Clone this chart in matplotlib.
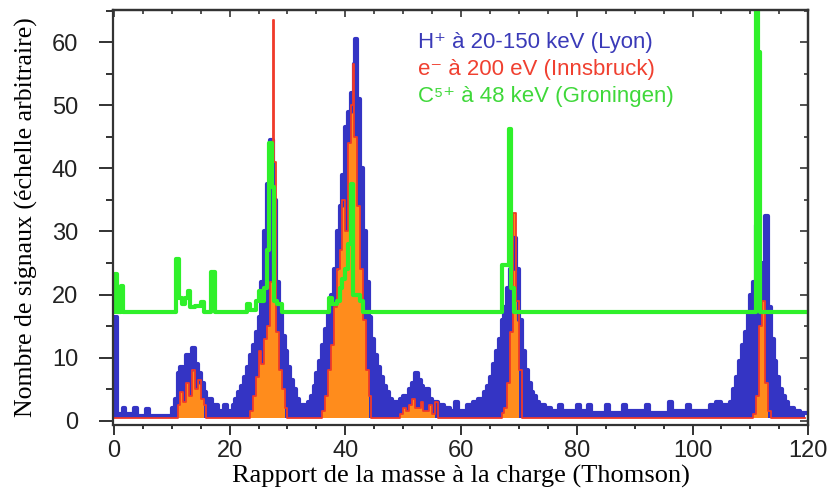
import numpy as np
import matplotlib.pyplot as plt
from matplotlib.ticker import MultipleLocator, NullFormatter

h_pts = [(0, 16.5), (0.5, 1.0), (1.5, 2.0), (2, 1.0), (3.5, 2.0), (4, 0.8), (5.5, 1.8), (6, 0.8),
         (10, 2.0), (10.5, 3.5), (11, 7.5), (11.5, 8.5), (12, 7.0), (12.5, 10.5), (13, 8.0), (13.5, 11.5),
         (14, 9.0), (14.5, 7.5), (15, 6.0), (15.5, 4.5), (16, 3.5), (17, 2.5), (18, 1.5), (19, 2.5),
         (19.5, 1.5), (20.5, 2.5), (21, 3.5), (21.5, 4.5), (22, 5.5), (22.5, 7), (23, 8.5), (23.5, 10.5),
         (24, 12), (24.5, 14), (25, 16.5), (25.5, 22), (26, 30), (26.5, 37.5), (27, 44.5), (27.5, 35),
         (28, 22), (28.5, 17), (29, 13.5), (29.5, 11), (30, 8.5), (30.5, 6.5), (31, 5), (31.5, 3.5),
         (32, 2.5), (33, 2), (33.5, 3), (34, 4), (34.5, 5.5), (35, 7.5), (35.5, 9.5), (36, 12),
         (36.5, 14.5), (37, 17), (37.5, 20), (38, 24), (38.5, 30), (39, 34), (39.5, 39), (40, 46.5),
         (40.5, 49), (41, 52), (41.5, 56.5), (41.75, 60.5), (42, 51), (42.5, 40), (43, 30), (43.5, 22),
         (44, 16.5), (44.5, 13), (45, 10.5), (45.5, 8.5), (46, 7), (46.5, 5.5), (47, 4.5), (47.5, 3.5),
         (48, 3), (49, 2.5), (49.5, 3.5), (50, 4), (50.5, 3.5), (51, 5), (51.5, 6), (52, 7.5),
         (52.5, 6.5), (53, 5.5), (53.5, 4.5), (54, 5), (54.5, 3.5), (55, 3), (56, 2.5), (57, 2),
         (58, 1.5), (59, 3), (59.5, 1.5), (61, 2.5), (62, 3), (63, 3.5), (64, 4.5), (64.5, 5.5),
         (65, 7), (65.5, 9), (66, 11), (66.5, 13), (67, 16), (67.5, 18), (68, 21), (68.5, 24),
         (69, 29), (69.5, 24), (70, 16), (70.5, 11), (71, 8), (71.5, 6), (72, 4.5), (72.5, 4),
         (73, 3), (73.5, 2.5), (74.5, 2), (75.5, 1.5), (77, 2.5), (77.5, 1.5), (80, 2.5), (80.5, 1.5),
         (82, 2.5), (82.5, 1.3), (85, 2.5), (85.5, 1.3), (88, 2.5), (88.5, 1.5), (92, 2.5), (92.5, 1.3),
         (96, 3), (96.5, 1.5), (99, 2.5), (99.5, 1.5), (103, 2.5), (104, 3), (105, 2.5), (106.5, 3),
         (107, 5), (107.5, 7), (108, 9.5), (108.5, 12), (109, 14), (109.5, 17), (110, 20), (110.5, 22),
         (111, 31), (111.5, 25), (112, 22), (112.5, 32.5), (113, 18), (113.5, 13), (114, 9.5), (114.5, 7),
         (115, 5), (115.5, 4), (116, 3), (116.5, 2), (117.5, 1.5), (118.5, 1.2), (119.5, 1.2)]

# électrons (Innsbruck)
e_pts = [(-0.2, 0.4), (11, 2.5), (11.5, 4.5), (12, 3), (12.5, 6), (13, 4), (13.5, 8), (14, 5),
         (14.5, 6.5), (15, 3.5), (15.5, 2.5), (16, 0.4), (23.5, 1.5), (24, 4), (24.5, 7), (25, 11),
         (25.5, 9), (26, 13), (26.5, 15), (27, 22), (27.5, 63.5), (27.75, 41), (28, 14), (28.5, 8),
         (29, 5), (29.5, 2), (30, 0.4), (36, 1.5), (36.5, 4), (37, 8), (37.5, 12), (38, 18),
         (38.5, 24), (39, 27), (39.5, 35), (40, 30), (40.5, 44), (41, 50), (41.25, 56.5), (41.5, 45),
         (42, 34), (42.5, 24), (43, 16), (43.5, 8), (44, 4), (44.5, 0.4), (49.5, 1), (50, 2),
         (50.5, 1.5), (51, 2.5), (51.5, 3.5), (52, 2), (53, 3), (53.5, 1.5), (54.5, 2.5), (55, 1),
         (55.5, 3), (56, 0.4), (67, 1.2), (67.5, 2), (68, 6), (68.5, 14), (69, 33), (69.5, 19),
         (70, 8), (70.5, 0.4), (110.5, 1), (111, 4), (111.5, 15), (112, 19), (112.5, 6), (113, 1.5),
         (113.5, 0.4), (119.5, 0.4)]

# C5+ (Groningen)
c_pts = [(-0.2, 17.2), (0.2, 23.3), (0.6, 17.2), (1.2, 21.3), (1.6, 17.2), (10.8, 25.7), (11.3, 19.5),
         (11.8, 18.5), (12.3, 19.5), (12.8, 20.5), (13.2, 18), (14, 18.2), (15, 18.8), (15.5, 17.2),
         (16.7, 23.5), (17.5, 17.2), (23, 18.5), (23.5, 17.5), (24.5, 19), (25, 20.5), (25.5, 19),
         (26, 21), (26.5, 27), (26.8, 44), (27.3, 37), (27.6, 19), (28.2, 18.5), (29, 17.2),
         (37.2, 19.5), (37.7, 18.5), (38.5, 19), (39, 21), (39.5, 22.5), (40, 24), (40.5, 28),
         (40.9, 37.5), (41.3, 20), (42.5, 19), (43, 17.2), (67.0, 24.7), (68.3, 46.3), (68.7, 21),
         (69.1, 17.2), (111.0, 66), (111.3, 58.5), (111.6, 17.2), (120, 17.2)]

legende = ["H\u207a à 20-150 keV (Lyon)", "e\u207b à 200 eV (Innsbruck)", "C\u2075\u207a à 48 keV (Groningen)"]

bleu = '#3434c4'
rouge = '#f03a2a'
orange = '#ff8c1c'
vert = '#2ff02a'

sans = ['Liberation Sans', 'DejaVu Sans']
serif = ['Liberation Serif', 'DejaVu Serif']

h_x, h_y = map(np.array, zip(*h_pts))
e_x, e_y = map(np.array, zip(*e_pts))
c_x, c_y = map(np.array, zip(*c_pts))

fig = plt.figure(figsize=(8.29, 4.95), dpi=100)
ax = fig.add_axes([0.136, 0.141, 0.839, 0.839])

ax.fill_between(h_x, h_y, 0.5, step='post', color=bleu, lw=0)
ax.step(h_x, h_y, where='post', color=bleu, lw=3)
ax.fill_between(e_x, e_y, 0.4, where=e_y > 0.45, step='post', color=orange, lw=0)
ax.step(e_x, e_y, where='post', color=rouge, lw=1.3)
ax.step(c_x, c_y, where='post', color=vert, lw=3)

ax.set_xlim(-0.2, 120)
ax.set_ylim(-0.7, 65.1)
ax.xaxis.set_major_locator(MultipleLocator(20))
ax.xaxis.set_minor_locator(MultipleLocator(5))
ax.yaxis.set_major_locator(MultipleLocator(10))
ax.yaxis.set_minor_locator(MultipleLocator(5))
ax.tick_params(which='both', direction='out', width=1.3, colors='#222222', labelsize=17)
ax.tick_params(axis='x', which='major', length=7, pad=4)
ax.tick_params(axis='x', which='minor', length=3)
ax.tick_params(axis='y', which='major', length=10, pad=15)
ax.tick_params(axis='y', which='minor', length=5)
for lab in ax.get_xticklabels() + ax.get_yticklabels():
    lab.set_family(sans)
for s in ax.spines.values():
    s.set_linewidth(1.6)
    s.set_color('#333333')

# graduations intérieures en haut et à droite
top = ax.secondary_xaxis('top')
top.xaxis.set_major_locator(MultipleLocator(20))
top.xaxis.set_minor_locator(MultipleLocator(5))
top.xaxis.set_major_formatter(NullFormatter())
top.tick_params(which='both', direction='in', width=1.2, colors='#333333')
top.tick_params(which='major', length=5)
top.tick_params(which='minor', length=3)
right = ax.secondary_yaxis('right')
right.yaxis.set_major_locator(MultipleLocator(10))
right.yaxis.set_minor_locator(MultipleLocator(5))
right.yaxis.set_major_formatter(NullFormatter())
right.tick_params(which='both', direction='in', width=1.2, colors='#333333')
right.tick_params(which='major', length=6)
right.tick_params(which='minor', length=3)
for sec in (top, right):
    for s in sec.spines.values():
        s.set_linewidth(1.6)
        s.set_color('#333333')

ax.set_xlabel('Rapport de la masse à la charge (Thomson)', family=serif, fontsize=19, labelpad=2)
ax.set_ylabel('Nombre de signaux (échelle arbitraire)', family=serif, fontsize=18.5, labelpad=10)

couleurs = ['#3a3ab8', '#f04030', '#3fd83a']
for i, (t, c) in enumerate(zip(legende, couleurs)):
    ax.text(52.5, 60.0 - 4.3 * i, t, color=c, fontsize=16, family=sans, va='center')

fig.savefig('out.png', dpi=100)
